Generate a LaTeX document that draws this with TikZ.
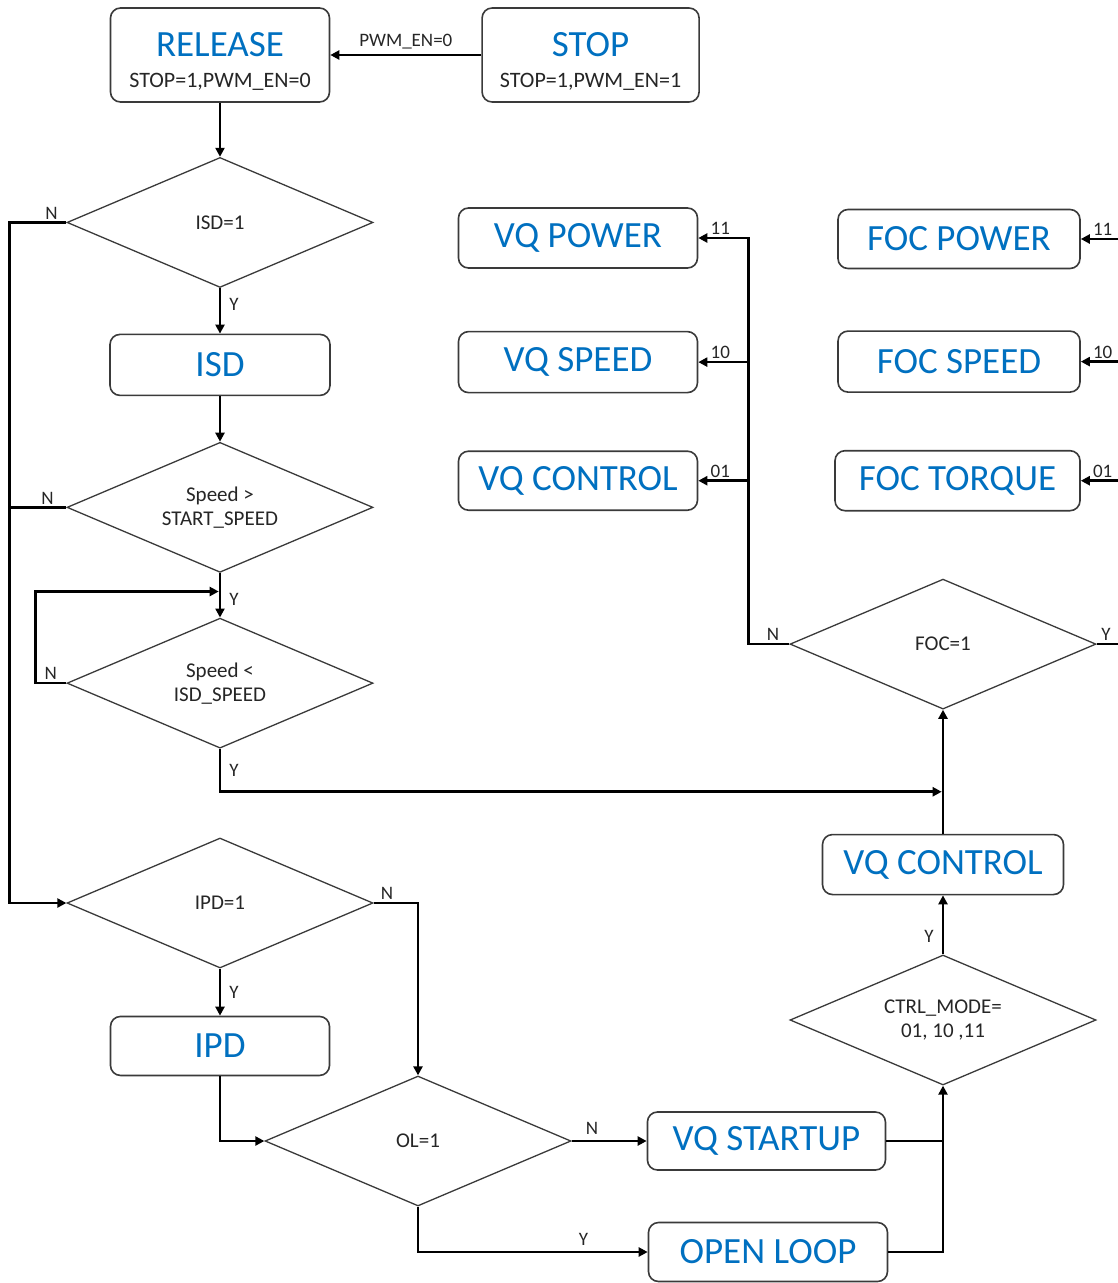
\documentclass[tikz,border=0pt]{standalone}
\usepackage{fontspec}
\setmainfont{Carlito}
\usepackage{tikz}
\usetikzlibrary{shapes.geometric,positioning,arrows.meta}
\definecolor{foblue}{HTML}{0070C0}
\definecolor{edgegray}{HTML}{3A3A3A}
\newcommand{\statefont}{\fontsize{37}{40}\selectfont}
\newcommand{\subfont}{\fontsize{22}{24}\selectfont}
\newcommand{\condfont}{\fontsize{21}{24}\selectfont}
\newcommand{\labfont}{\fontsize{19}{22}\selectfont}
\tikzset{
	state/.style={draw=edgegray, line width=1.6pt, rounded corners=10pt, fill=white,
		minimum width=239pt, minimum height=60pt, inner sep=0pt, align=center,
		font=\statefont, text=foblue},
	decision/.style={diamond, aspect=2.37, draw=edgegray, line width=1.3pt, fill=white,
		minimum width=306pt, minimum height=130pt, inner sep=0pt, align=center,
		font=\condfont, text=black!85},
	wire/.style={line width=2.6pt, black},
	flow/.style={wire, -{Triangle[length=9pt,width=9pt]}},
	lab/.style={font=\labfont, text=black!85, inner sep=2pt}
}

\begin{document}
\begin{tikzpicture}[x=1pt, y=-1pt]
		\path[use as bounding box] (0,0) rectangle (1118,1283);
		\clip (0,0) rectangle (1118,1283);

		% Define nodes
		\node[state, minimum width=219pt, minimum height=94pt] (release) at (220,55)
			{\rule{0pt}{37pt}RELEASE\\[-9pt]{\subfont\color{black!85}STOP=1,PWM\_EN=0}};
		\node[state, minimum width=217pt, minimum height=94pt, right=151pt of release] (stop)
			{\rule{0pt}{37pt}STOP\\[-9pt]{\subfont\color{black!85}STOP=1,PWM\_EN=1}};
		\node[decision, below=54pt of release] (isdq) {ISD=1};
		\node[state, minimum width=220pt, minimum height=61pt, below=45.5pt of isdq] (isd) {ISD};
		\node[decision, below=45.5pt of isd] (startq) {Speed >\\START\_SPEED};
		\node[decision, below=44.5pt of startq] (isdspd) {Speed <\\ISD\_SPEED};
		\coordinate[above=26pt of isdspd.north] (retry);

		\node[decision] (ipdq) at (220,903) {IPD=1};
		\node[state, minimum width=219pt, minimum height=59pt, below=47pt of ipdq] (ipd) {IPD};
		\node[decision] (olq) at (418,1141) {OL=1};
		\node[state, minimum width=238pt, minimum height=58pt, right=75pt of olq] (vqstart) {VQ STARTUP};
		\node[state, minimum height=59pt] (openloop) at (768,1252) {OPEN LOOP};

		\node[decision] (ctrlq) at (943,1020) {CTRL\_MODE=\\01, 10 ,11};
		\node[state, minimum width=241pt, above=59pt of ctrlq] (vqctrl) {VQ CONTROL};
		\coordinate[above=42pt of vqctrl.north] (merge);
		\node[decision, above=124pt of vqctrl] (focq) {FOC=1};
		\coordinate[left=41pt of focq.west] (vqbus);
		\coordinate[right=28pt of focq.east] (focbus);

		\node[state] (vqpower) at (578,238) {VQ POWER};
		\node[state, minimum height=61pt, below=62pt of vqpower] (vqspeed) {VQ SPEED};
		\node[state, minimum height=59pt, below=57pt of vqspeed] (vqcontrol) {VQ CONTROL};
		\node[state, minimum width=242pt, minimum height=59pt] (focpower) at (959,239) {FOC POWER};
		\node[state, minimum width=242pt, minimum height=61pt, below=61pt of focpower] (focspeed) {FOC SPEED};
		\node[state, minimum width=245pt, minimum height=60pt, below=57pt of focspeed.south east, anchor=north east] (foctorque) {FOC TORQUE};

		% Connect the nodes
		\draw[flow] (stop) -- node[lab, above=3pt] {PWM\_EN=0} (release);
		\draw[flow] (release) -- (isdq);
		\draw[flow] (isdq) -- node[lab, right=6pt, pos=0.35] {Y} (isd);
		\draw[flow] (isd) -- (startq);
		\draw[flow] (startq) -- node[lab, right=6pt, pos=0.6] {Y} (isdspd);
		\draw[flow, shorten >=1.3pt] (isdspd.west) -- node[lab, above, pos=0.5] {N} ++(-31,0) |- (retry);
		\draw[flow] (isdq.west) -- node[lab, above, pos=0.26] {N} ++(-57,0) |- (ipdq.west);
		\draw[wire] (startq.west) -- node[lab, above, pos=0.33] {N} ++(-57,0);
		\draw[flow, shorten >=1.3pt] (isdspd.south) |- node[lab, right=6pt, pos=0.25] {Y} (merge);

		\draw[flow] (ipdq) -- node[lab, right=6pt] {Y} (ipd);
		\draw[flow] (ipdq.east) -| node[lab, above, pos=0.15] {N} (olq.north);
		\draw[flow] (ipd.south) |- (olq.west);
		\draw[flow] (olq.east) -- node[lab, above=3pt, pos=0.27] {N} (vqstart.west);
		\draw[flow] (olq.south) |- node[lab, above=3pt, pos=0.86] {Y} (openloop.west);
		\draw[flow] (openloop.east) -| (ctrlq.south);
		\draw[wire] (vqstart.east) -- (vqstart.east -| ctrlq.south);
		\draw[flow] (ctrlq) -- node[lab, left=6pt, pos=0.3] {Y} (vqctrl);
		\draw[flow] (vqctrl) -- (focq);

		\draw[flow] (focq.west) -- node[lab, above, pos=0.4] {N} (vqbus) |- node[lab, above, pos=0.78] {11} (vqpower.east);
		\draw[flow] (vqbus |- vqspeed.east) -- node[lab, above, pos=0.56] {10} (vqspeed.east);
		\draw[flow] (vqbus |- vqcontrol.east) -- node[lab, above, pos=0.56] {01} (vqcontrol.east);
		\draw[flow] (focq.east) -- node[lab, above, pos=0.33] {Y} (focbus) |- node[lab, above, pos=0.75] {11} (focpower.east);
		\draw[flow] (focbus |- focspeed.east) -- node[lab, above, pos=0.5] {10} (focspeed.east);
		\draw[flow] (focbus |- foctorque.east) -- node[lab, above, pos=0.5] {01} (foctorque.east);
	\end{tikzpicture}
\end{document}
